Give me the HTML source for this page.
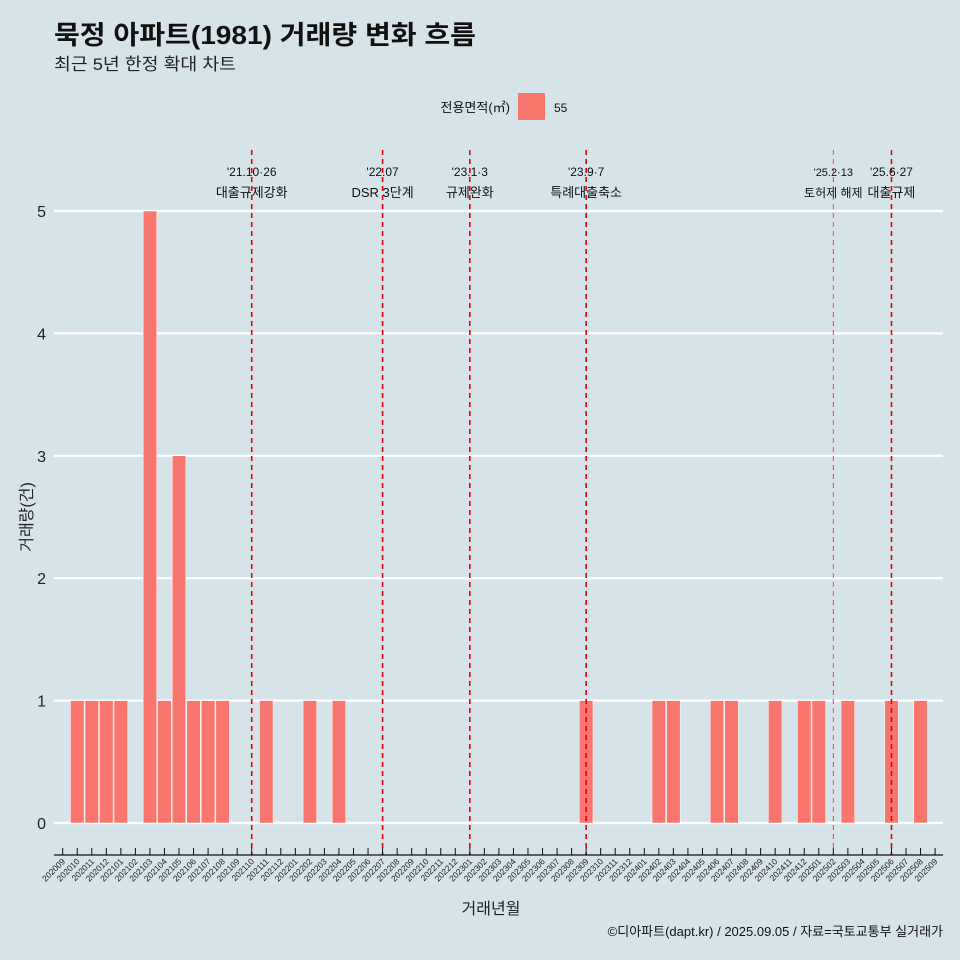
<!DOCTYPE html>
<html><head><meta charset="utf-8">
<style>
body{margin:0;background:#d6e4ea;overflow:hidden;}
svg{display:block;}
svg text{font-family:"Liberation Sans","Noto Sans CJK KR",sans-serif;}
</style></head>
<body>
<svg id="chart" width="960" height="960" xmlns="http://www.w3.org/2000/svg">
<rect x="0" y="0" width="960" height="960" fill="#d6e4ea"/>
<text x="54" y="44" font-size="26" font-weight="bold" fill="#111" textLength="422" lengthAdjust="spacingAndGlyphs">묵정 아파트(1981) 거래량 변화 흐름</text>
<text x="54" y="70" font-size="17" fill="#222" textLength="182" lengthAdjust="spacingAndGlyphs">최근 5년 한정 확대 차트</text>
<g>
<text x="510" y="112" font-size="13" text-anchor="end" fill="#111">전용면적(㎡)</text>
<rect x="518" y="93" width="27" height="27" fill="#f8766d"/>
<text x="554" y="112" font-size="12" fill="#111">55</text>
</g>
<g id="grid"></g>
<g id="bars"></g>
<g id="events"></g>
<g id="axes"></g>
<text x="491" y="914" font-size="16" text-anchor="middle" fill="#222">거래년월</text>
<text transform="translate(32,517) rotate(-90)" font-size="16" text-anchor="middle" fill="#222">거래량(건)</text>
<text x="943" y="936" font-size="13" text-anchor="end" fill="#111">©디아파트(dapt.kr) / 2025.09.05 / 자료=국토교통부 실거래가</text>
</svg>
<script>
const categories = [];
for (let y = 2020; y <= 2025; y++) for (let m = 1; m <= 12; m++) {
  const k = y * 100 + m;
  if (k >= 202009 && k <= 202509) categories.push(String(k));
}
const values = [0,1,1,1,1,0,5,1,3,1,1,1,0,0,1,0,0,1,0,1,0,0,0,0,0,0,0,0,0,0,0,0,0,0,0,0,1,0,0,0,0,1,1,0,0,1,1,0,0,1,0,1,1,0,1,0,0,1,0,1,0];
const yTicks = [0,1,2,3,4,5];
const eventMonths = ["202110","202207","202301","202309","202502","202506"];
const eventDates = ["'21.10·26","'22.07","'23.1·3","'23.9·7","'25.2·13","'25.6·27"];
const eventLabels = ["대출규제강화","DSR 3단계","규제완화","특례대출축소","토허제 해제","대출규제"];

const NS = "http://www.w3.org/2000/svg";
const x0 = 62.7, step = 14.54;
const xPos = i => x0 + i * step;
const xCat = c => xPos(categories.indexOf(c));
const yPos = v => 823 - v * 122.4;
function mk(tag, attrs, parent, text) {
  const e = document.createElementNS(NS, tag);
  for (const k in attrs) e.setAttribute(k, attrs[k]);
  if (text !== undefined) e.textContent = text;
  document.getElementById(parent).appendChild(e);
  return e;
}
yTicks.forEach(t => {
  const l = mk('line', {x1:54, x2:943, y1:yPos(t), y2:yPos(t), stroke:'#fff', 'stroke-width':2.2}, 'grid');
  
  
  const tx = mk('text', {x:46, y:yPos(t)+6, 'font-size':16, 'text-anchor':'end', fill:'#222'}, 'grid', String(t));
  
  
});
values.forEach((v, i) => {
  if (v <= 0) return;
  const r = mk('rect', {x:xPos(i)-6.8, y:yPos(v), width:13.6, height:yPos(0)-yPos(v), fill:'#f8766d', stroke:'#fff', 'stroke-width':0.5}, 'bars');
  
  
});
eventMonths.forEach((c, i) => {
  const x = xCat(c);
  const small = c === "202502";
  const l = mk('line', {x1:x, x2:x, y1:150, y2:855, stroke: small ? '#e8434f' : '#e8000b', 'stroke-width': small ? 1 : 1.6, 'stroke-dasharray':'5,4'}, 'events');
  
  
  const t1 = mk('text', {x:x, y:176, 'font-size':small ? 11 : 12, 'text-anchor':'middle', fill:'#111'}, 'events', eventDates[i]);
  
  
  const t2 = mk('text', {x:x, y:197, 'font-size':small ? 12 : 13, 'text-anchor':'middle', fill:'#111'}, 'events', eventLabels[i]);
  
  
});
const ax = mk('line', {x1:54, x2:943, y1:855, y2:855, stroke:'#111', 'stroke-width':1.2}, 'axes');


categories.forEach((c, i) => {
  const x = xPos(i);
  const tk = mk('line', {x1:x, x2:x, y1:848, y2:855, stroke:'#111', 'stroke-width':1}, 'axes');
  
  
  const t = mk('text', {x:x+3, y:862, 'font-size':8.5, 'text-anchor':'end', fill:'#222', transform:`rotate(-45 ${x+3} 862)`}, 'axes', c);
  
  
});
</script>
</body></html>
